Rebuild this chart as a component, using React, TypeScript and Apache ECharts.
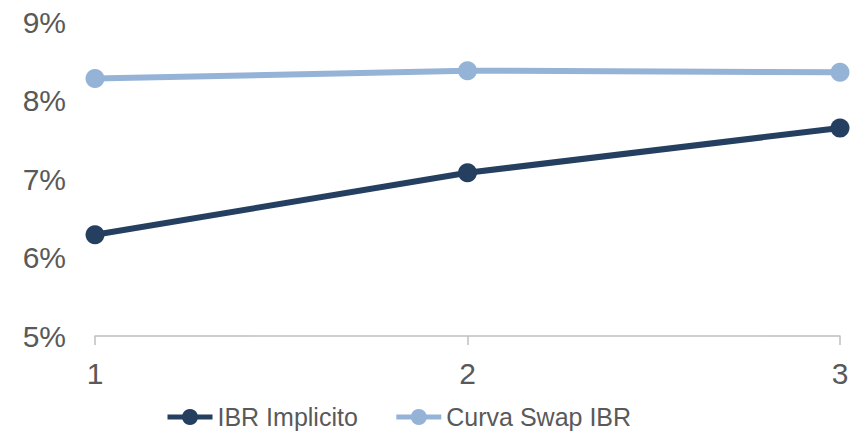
import React, { useEffect, useRef } from "react";
import * as echarts from "echarts";

const categories = ["1", "2", "3"];
const ibrImplicito = [6.29, 7.08, 7.65];
const curvaSwapIbr = [8.28, 8.38, 8.36];
const seriesNames = ["IBR Implicito", "Curva Swap IBR"];

export default function App() {
  const ref = useRef<HTMLDivElement>(null);
  useEffect(() => {
    const chart = echarts.init(ref.current!, null, { renderer: "svg" });
    const textColor = "#595959";
    const font = "'Liberation Sans', Arial, sans-serif";
    chart.setOption({
      animation: false,
      backgroundColor: "#ffffff",
      grid: { left: 95, right: 26, top: 22, bottom: 97 },
      xAxis: {
        type: "category",
        data: categories,
        boundaryGap: false,
        axisLine: { lineStyle: { color: "#bfbfbf", width: 1.5 } },
        axisTick: { show: true, length: 9, lineStyle: { color: "#bfbfbf", width: 1.5 } },
        axisLabel: { color: textColor, fontSize: 30, fontFamily: font, margin: 22 },
        splitLine: { show: false },
      },
      yAxis: {
        type: "value",
        min: 5,
        max: 9,
        interval: 1,
        axisLine: { show: false },
        axisTick: { show: false },
        splitLine: { show: false },
        axisLabel: {
          color: textColor,
          fontSize: 30,
          fontFamily: font,
          margin: 29,
          formatter: "{value}%",
        },
      },
      legend: {
        left: 160,
        top: 399,
        padding: 5,
        itemWidth: 45,
        itemHeight: 20,
        itemGap: 36,
        lineStyle: { width: 5 },
        textStyle: {
          color: textColor,
          fontSize: 25,
          lineHeight: 26,
          fontFamily: font,
        },
        data: seriesNames,
      },
      series: [
        {
          name: seriesNames[0],
          type: "line",
          data: ibrImplicito,
          symbol: "circle",
          symbolSize: 19,
          color: "#243f60",
          lineStyle: { width: 6, color: "#243f60" },
          itemStyle: { color: "#243f60" },
        },
        {
          name: seriesNames[1],
          type: "line",
          data: curvaSwapIbr,
          symbol: "circle",
          symbolSize: 19,
          color: "#95b3d7",
          lineStyle: { width: 6, color: "#95b3d7" },
          itemStyle: { color: "#95b3d7" },
        },
      ],
    });
    return () => chart.dispose();
  }, []);
  return <div ref={ref} style={{ width: 866, height: 433, position: "absolute", left: 0, top: 0 }} />;
}
